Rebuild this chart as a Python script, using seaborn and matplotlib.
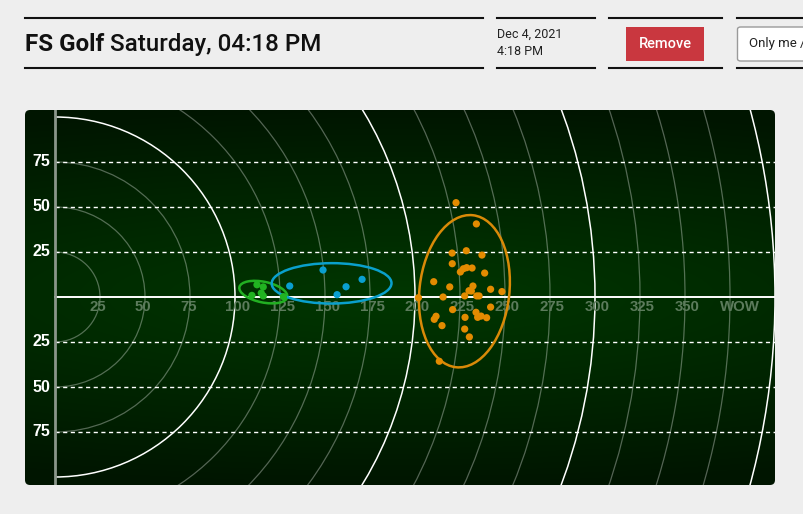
import numpy as np
import pandas as pd
import matplotlib
matplotlib.use("Agg")
import matplotlib.pyplot as plt
import seaborn as sns
from matplotlib.patches import Ellipse, Arc, FancyBboxPatch, Rectangle
import matplotlib.transforms as mtransforms

# ---------------- data ----------------
green_x = [112.2, 115.7, 109.4, 114.6, 115.7, 126.9]
green_y = [6.8, 5.6, 0.9, 2.2, 0.6, 0.2]
blue_x = [130.4, 148.9, 161.7, 170.6, 156.7]
blue_y = [6.1, 15.0, 5.7, 9.8, 1.3]
orange_x = [222.8, 234.1, 220.6, 228.5, 237.2, 220.7, 226.9, 228.7, 231.7, 225.2,
            238.7, 210.4, 219.3, 242.0, 248.3, 230.0, 231.3, 232.2, 215.6, 227.6,
            234.3, 235.6, 201.9, 220.9, 242.0, 233.9, 211.7, 210.7, 227.8, 234.8,
            236.7, 239.8, 215.0, 227.6, 230.2, 213.5]
orange_y = [52.4, 40.6, 24.4, 25.7, 23.3, 18.5, 15.7, 16.3, 16.1, 13.9,
            13.3, 8.5, 5.6, 4.3, 3.0, 3.5, 3.3, 6.1, 0.0, 0.6,
            0.6, 0.6, -0.4, -7.0, -5.6, -8.5, -10.7, -12.4, -11.3, -11.3,
            -10.6, -11.5, -15.9, -17.8, -22.2, -35.7]
groups = ["green", "blue", "orange"]
colors = {"green": "#21b321", "blue": "#0a9fd0", "orange": "#e38b00"}
ellipse_colors = {"green": "#22b022", "blue": "#0aa0cc", "orange": "#d98a08"}

y_ticks = [75, 50, 25, -25, -50, -75]
y_tick_labels = ["75", "50", "25", "25", "50", "75"]
x_ticks = [25, 50, 75, 100, 125, 150, 175, 200, 225, 250, 275, 300, 325, 350, 375]
x_tick_labels = ["25", "50", "75", "100", "125", "150", "175", "200", "225", "250",
                 "275", "300", "325", "350", "WOW"]
ring_radii = [25, 50, 75, 100, 125, 150, 175, 200, 225, 250, 275, 300, 325, 350, 375, 400]
major_rings = [100, 200, 300, 400]

df = pd.DataFrame({
    "x": green_x + blue_x + orange_x,
    "y": green_y + blue_y + orange_y,
    "club": ["green"] * len(green_x) + ["blue"] * len(blue_x) + ["orange"] * len(orange_x),
})

# ---------------- figure ----------------
W, H = 804, 514
fig = plt.figure(figsize=(W / 100, H / 100), dpi=100, facecolor="#eeeeee")

def fx(px):
    return px / W

def fy(py):
    return 1 - py / H

# header lines
for x0, x1 in [(25, 483), (497, 595), (609, 722), (737, 804)]:
    for yy in (17.5, 67.5):
        fig.add_artist(plt.Line2D([fx(x0), fx(x1)], [fy(yy), fy(yy)],
                                  transform=fig.transFigure, color="#111111", lw=1.5))

t1 = fig.text(fx(25), fy(51), "FS Golf", fontfamily="Roboto", fontweight="bold",
              fontsize=17.4, color="#111111", va="baseline", ha="left")
fig.canvas.draw()
bb = t1.get_window_extent()
fig.text(bb.x1 / W + fx(6), fy(51), "Saturday, 04:18 PM", fontfamily="Roboto",
         fontweight="medium", fontsize=17.4, color="#111111", va="baseline", ha="left")

fig.text(fx(497), fy(38), "Dec 4, 2021", fontfamily="Roboto", fontsize=9,
         color="#222222", va="baseline")
fig.text(fx(497), fy(55), "4:18 PM", fontfamily="Roboto", fontsize=9,
         color="#222222", va="baseline")

fig.add_artist(Rectangle((fx(626), fy(61)), fx(78), 34 / H, transform=fig.transFigure,
                         facecolor="#c9373f", edgecolor="none"))
fig.text(fx(665), fy(43.5), "Remove", fontfamily="Roboto", fontweight="medium",
         fontsize=10.5, color="white", ha="center", va="center")

fig.add_artist(FancyBboxPatch((fx(737.5), fy(61)), fx(80), 34 / H,
                              boxstyle="round,pad=0,rounding_size=0.004",
                              transform=fig.transFigure, facecolor="white",
                              edgecolor="#9a9a9a", lw=1))
fig.text(fx(749), fy(44), "Only me /", fontfamily="Roboto", fontsize=9.5,
         color="#222222", ha="left", va="center")

# ---------------- chart ----------------
ax = fig.add_axes([fx(25), 1 - 485 / H, 750 / W, 375 / H])
xmin, xmax = (25 - 55) / 1.8, (775 - 55) / 1.8
ymax, ymin = (297 - 110) / 1.8, (297 - 485) / 1.8
ax.set_xlim(xmin, xmax)
ax.set_ylim(ymin, ymax)
ax.axis("off")

panel = FancyBboxPatch((xmin, ymin), xmax - xmin, ymax - ymin,
                       boxstyle="round,pad=0,rounding_size=2.8",
                       facecolor="none", edgecolor="none", transform=ax.transData)
ax.add_patch(panel)

gy = np.linspace(ymax, ymin, 300)[:, None]
gx = np.linspace(xmin, xmax, 400)[None, :]
t = np.clip(np.sqrt((gy / 104.0) ** 2 + 0.15 * ((gx - 190) / 210.0) ** 2), 0, 1)
c_center = np.array([0.0, 0.215, 0.0])
c_edge = np.array([0.0, 0.085, 0.0])
img = c_center[None, None, :] * (1 - t[..., None]) + c_edge[None, None, :] * t[..., None]
im = ax.imshow(img, extent=(xmin, xmax, ymin, ymax), aspect="auto", zorder=0)
im.set_clip_path(panel)

for r in ring_radii:
    major = r in major_rings
    arc = Arc((0, 0), 2 * r, 2 * r, theta1=-90, theta2=90,
              color="white" if major else (1, 1, 1, 0.33),
              lw=1.1 if major else 0.9, zorder=1)
    ax.add_patch(arc)
    arc.set_clip_path(panel)

for yv in y_ticks:
    ax.plot([0, xmax], [yv, yv], color="white", lw=1.0, ls=(0, (3, 2.5)), zorder=2)
ax.plot([0, xmax], [0, 0], color="white", lw=1.4, zorder=2)
ax.plot([0, 0], [ymin, ymax], color="#8a968a", lw=2, zorder=2)

off_y = mtransforms.offset_copy(ax.transData, fig=fig, x=-5, y=0, units="dots")
for yv, lab in zip(y_ticks, y_tick_labels):
    ax.text(0, yv, lab, transform=off_y, ha="right", va="center", color="white",
            fontweight="bold", fontfamily="Liberation Sans", fontsize=11.5, zorder=3)

off_x = mtransforms.offset_copy(ax.transData, fig=fig, x=-10, y=-3, units="dots")
for xv, lab in zip(x_ticks, x_tick_labels):
    ax.text(xv, 0, lab, transform=off_x, ha="left", va="top", color="#5c7b5c",
            fontweight="bold", fontfamily="Liberation Sans", fontsize=10.8, zorder=3)

# confidence ellipses computed from the data
k = np.sqrt(5.991)
for g in groups:
    sub = df[df.club == g]
    pts = sub[["x", "y"]].to_numpy()
    mu = pts.mean(axis=0)
    cov = np.cov(pts.T, ddof=0)
    vals, vecs = np.linalg.eigh(cov)
    order = vals.argsort()[::-1]
    vals, vecs = vals[order], vecs[:, order]
    ang = np.degrees(np.arctan2(vecs[1, 0], vecs[0, 0]))
    e = Ellipse(mu, 2 * k * np.sqrt(vals[0]), 2 * k * np.sqrt(vals[1]), angle=ang,
                facecolor="none", edgecolor=ellipse_colors[g], lw=1.8, zorder=4)
    ax.add_patch(e)

sns.scatterplot(data=df, x="x", y="y", hue="club", palette=colors, s=27,
                linewidth=0, legend=False, ax=ax, zorder=5)
ax.set_xlim(xmin, xmax)
ax.set_ylim(ymin, ymax)
ax.axis("off")

fig.savefig("out.png", dpi=100, facecolor=fig.get_facecolor())
